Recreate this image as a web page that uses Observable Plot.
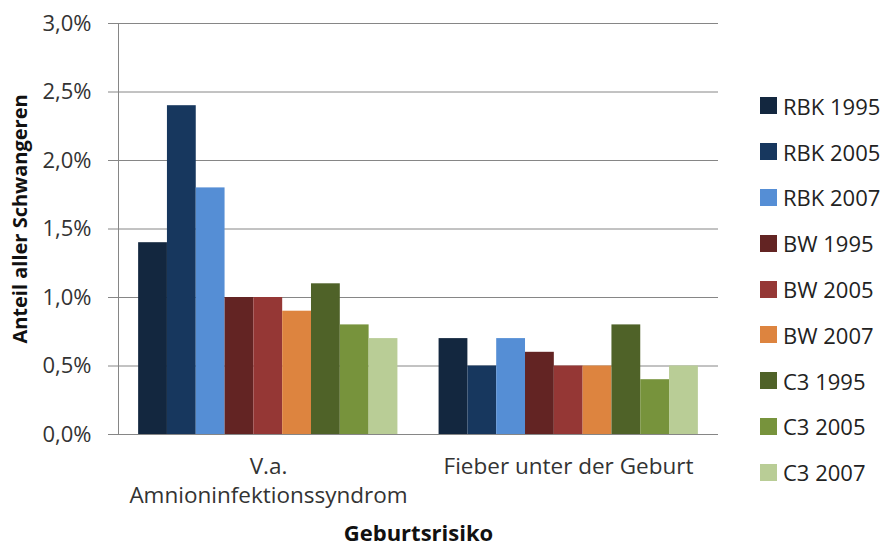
<!DOCTYPE html>
<html><head><meta charset="utf-8">
<script src="https://cdn.jsdelivr.net/npm/d3@7"></script>
<script src="https://cdn.jsdelivr.net/npm/@observablehq/plot@0.6"></script>
<style>
body{margin:0;background:#fff;font-family:"Open Sans",sans-serif;}
#chart{position:relative;width:886px;height:545px;}
#legend{position:absolute;left:760px;top:83px;}
.row{display:flex;align-items:center;height:45.8px;font-size:22px;color:#222;white-space:nowrap;}
.sw{width:17px;height:17px;margin-right:6px;flex:none;}
</style></head><body><div id="chart"></div>
<script>
const categories = ["V.a. Amnioninfektionssyndrom", "Fieber unter der Geburt"];
const categoryLabels = ["V.a.\nAmnioninfektionssyndrom", "Fieber unter der Geburt"];
const series = ["RBK 1995", "RBK 2005", "RBK 2007", "BW 1995", "BW 2005", "BW 2007", "C3 1995", "C3 2005", "C3 2007"];
const colors = ["#13273f", "#17375e", "#558ed5", "#632423", "#953735", "#dd843f", "#4f6228", "#77933c", "#b9cd96"];
const valuesAIS = [0.014, 0.024, 0.018, 0.010, 0.010, 0.009, 0.011, 0.008, 0.007];
const valuesFieber = [0.007, 0.005, 0.007, 0.006, 0.005, 0.005, 0.008, 0.004, 0.005];
const yTicks = [0, 0.005, 0.01, 0.015, 0.02, 0.025, 0.03];
const yLabel = "Anteil aller Schwangeren";
const xLabel = "Geburtsrisiko";

const rows = [
  ...series.map((s, i) => ({category: categories[0], series: s, value: valuesAIS[i]})),
  ...series.map((s, i) => ({category: categories[1], series: s, value: valuesFieber[i]}))
];

const fmt = d => (d * 100).toFixed(1).replace(".", ",") + "%";
const common = {
  width: 886, height: 545,
  marginLeft: 118, marginRight: 168, marginTop: 23, marginBottom: 111,
  style: {fontFamily: "Open Sans", background: "transparent", overflow: "visible"}
};
const bandPad = {paddingInner: 0.137, paddingOuter: 0.067, round: false};

const base = Plot.plot({
  ...common,
  x: {domain: categories, ...bandPad, axis: null},
  y: {domain: [0, 0.03], axis: null},
  marks: [
    Plot.gridY(yTicks, {stroke: "#868686", strokeOpacity: 1, strokeWidth: 1}),
    Plot.frame({anchor: "left", stroke: "#868686", strokeWidth: 1}),
    Plot.axisY(yTicks, {tickSize: 10, tickPadding: 17, tickFormat: fmt, fontSize: 22, stroke: "#868686", fill: "#333", label: null}),
    Plot.axisX({tickSize: 0, tickPadding: 20, fontSize: 22.5, fill: "#333", lineHeight: 1.25,
      tickFormat: d => categoryLabels[categories.indexOf(d)], label: null}),
    Plot.text([xLabel], {frameAnchor: "bottom", dy: 106, fontSize: 22, fontWeight: "bold", fill: "#111"}),
    Plot.text([yLabel], {frameAnchor: "left", textAnchor: "middle", rotate: -90, dx: -98, dy: -10, fontSize: 20, fontWeight: "bold", fill: "#111"})
  ]
});

const bars = Plot.plot({
  ...common,
  fx: {domain: categories, ...bandPad, axis: null, label: null},
  x: {domain: series, padding: 0, round: false, axis: null},
  y: {domain: [0, 0.03], axis: null},
  color: {domain: series, range: colors},
  marks: [
    Plot.barY(rows, {fx: "category", x: "series", y: "value", fill: "series", inset: 0})
  ]
});

const grid = base.querySelector('g[aria-label="y-grid"]');
let anchor = grid;
for (const g of Array.from(bars.children).filter(n => n.tagName.toLowerCase() === "g")) {
  anchor.after(g);
  anchor = g;
}

const chart = document.getElementById("chart");
chart.appendChild(base);

const legend = document.createElement("div");
legend.id = "legend";
series.forEach((s, i) => {
  const row = document.createElement("div");
  row.className = "row";
  const sw = document.createElement("div");
  sw.className = "sw";
  sw.style.background = colors[i];
  const t = document.createElement("span");
  t.textContent = s;
  row.appendChild(sw);
  row.appendChild(t);
  legend.appendChild(row);
});
chart.appendChild(legend);
</script></body></html>
